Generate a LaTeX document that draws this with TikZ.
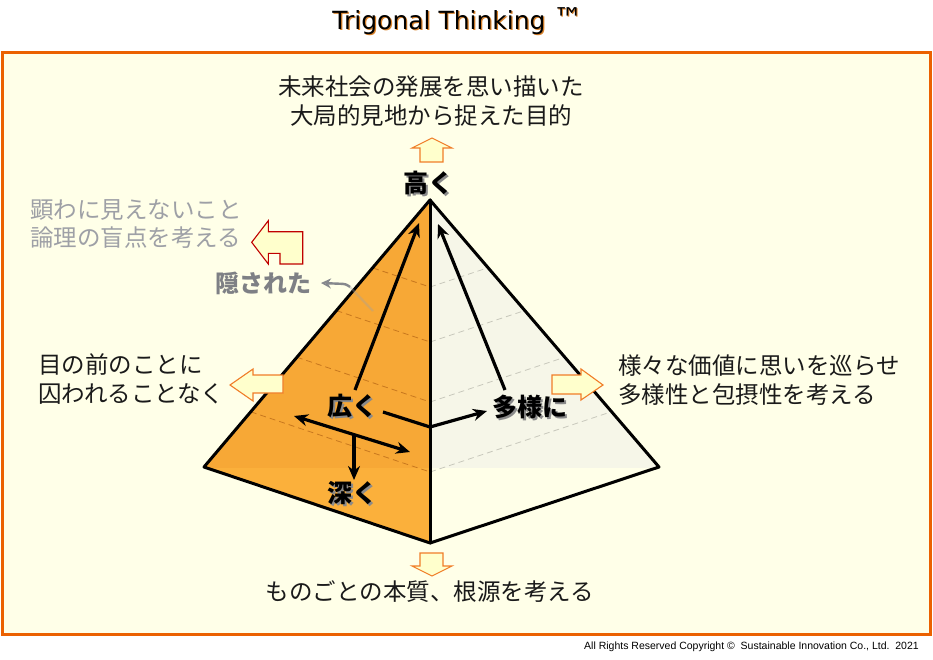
\documentclass[tikz,border=0pt]{standalone}
\usepackage{fontspec}
\setmainfont{DejaVu Sans}
\newfontfamily\jp{Noto Sans CJK JP}
\newfontfamily\arialf{Liberation Sans}
\usetikzlibrary{arrows.meta}
\definecolor{bgc}{HTML}{FFFFE8}
\definecolor{framec}{HTML}{EB6100}
\definecolor{lefttop}{HTML}{F7A836}
\definecolor{leftbot}{HTML}{FBB03B}
\definecolor{righttop}{HTML}{F6F6E8}
\definecolor{dashl}{HTML}{C8781E}
\definecolor{dashr}{HTML}{C8C8BC}
\definecolor{blockfill}{HTML}{FFFFCC}
\definecolor{blockline}{HTML}{F07D28}
\definecolor{hidline}{HTML}{C00000}
\definecolor{graytext}{HTML}{9EA0A6}
\definecolor{darktext}{HTML}{1A1A1A}
\definecolor{shadowc}{HTML}{8A8A8A}
\definecolor{titleshadow}{HTML}{D9822B}
\newcommand{\shadowtxt}[2]{\rlap{\hspace{2pt}\raisebox{-2pt}{\textcolor{#1}{#2}}}#2}
\newcommand{\softshadow}[2]{\rlap{\hspace{1.2pt}\raisebox{-1.2pt}{\textcolor{#1}{#2}}}#2}
\begin{document}
\begin{tikzpicture}[x=1pt,y=-1pt,
  edge/.style={line width=3pt,line join=round,line cap=round},
  dashleft/.style={dashl,line width=0.8pt,dash pattern=on 6pt off 4pt},
  dashright/.style={dashr,line width=0.8pt,dash pattern=on 6pt off 4pt},
  blackarrow/.style={line width=3.2pt,-{Stealth[length=14pt,width=12pt]}},
  blockarrow/.style={fill=blockfill,draw=blockline,line width=1.1pt,line join=miter},
  hidarrow/.style={fill=blockfill,draw=hidline,line width=1.1pt,line join=miter},
  jptext/.style={font=\jp\fontsize{23.5}{29}\selectfont,text=darktext,inner sep=0pt,align=left},
  graytxt/.style={font=\jp\fontsize{23.5}{28}\selectfont,text=graytext,inner sep=0pt,align=left},
  label/.style={font=\jp\bfseries\fontsize{25}{28}\selectfont,text=black,inner sep=0pt}
]
\useasboundingbox (0,0) rectangle (933,660);
\fill[white] (0,0) rectangle (933,660);
% frame
\draw[framec,line width=3.5pt,fill=bgc] (2.5,52.5) rectangle (930.5,634.5);
% title
\node[font=\fontsize{25}{28}\selectfont,inner sep=0pt] (title) at (458,22) {\softshadow{titleshadow}{Trigonal Thinking {\fontsize{30}{30}\selectfont ™}}};
% pyramid
\coordinate (apex) at (430,200);
\coordinate (lc) at (204,467);
\coordinate (rc) at (659,467);
\coordinate (bc) at (430,543);
\coordinate (ctr) at (430,427);
\fill[lefttop] (apex) -- (lc) -- (bc) -- cycle;
\begin{scope}
  \clip (apex) -- (lc) -- (bc) -- cycle;
  \fill[leftbot] (180,467.5) rectangle (430,560);
\end{scope}
\fill[righttop] (apex) -- (rc) -- (bc) -- cycle;
\begin{scope}
  \clip (apex) -- (rc) -- (bc) -- cycle;
  \fill[bgc] (430,467.5) rectangle (680,560);
\end{scope}
% dashed levels
\draw[dashleft] (373,268) -- (430,287);
\draw[dashleft] (336.4,310.6) -- (430,342);
\draw[dashleft] (296.8,357.2) -- (430,402);
\draw[dashleft] (250.7,411.8) -- (430,472);
\draw[dashright] (430,287) -- (488,267.7);
\draw[dashright] (430,342) -- (524.8,310.5);
\draw[dashright] (430,402) -- (564.8,357.2);
\draw[dashright] (430,472) -- (611.6,411.7);
% edges
\draw[edge] (apex) -- (lc) -- (bc) -- (rc) -- cycle;
\draw[edge] (apex) -- (bc);
% labels
\node[label] (high) at (428,184) {\shadowtxt{shadowc}{高く}};
\node[label] (wide) at (352,407) {\shadowtxt{shadowc}{広く}};
\node[label] (diverse) at (530,408) {\shadowtxt{shadowc}{多様に}};
\node[label] (deep) at (352,494) {\shadowtxt{shadowc}{深く}};
% black arrows
\coordinate (w1) at (355,390);
\coordinate (w1e) at (419,223);
\coordinate (d1) at (505,390);
\coordinate (d1e) at (438,224);
\coordinate (wl) at (383,412);
\coordinate (dl) at (487,411);
\coordinate (hl) at (294,416);
\coordinate (hr) at (410,452);
\coordinate (vt) at (354,434);
\coordinate (vb) at (354,480);
\draw[blackarrow] (w1) -- (w1e);
\draw[blackarrow] (d1) -- (d1e);
\draw[blackarrow,line join=round] (wl) -- (ctr) -- (dl);
\draw[line width=3.2pt,{Stealth[length=14pt,width=12pt]}-{Stealth[length=14pt,width=12pt]}] (hl) -- (hr);
\draw[blackarrow] (vt) -- (vb);
% block arrows
\draw[blockarrow] (432,138) -- (452,148) -- (443,148) -- (443,162) -- (420,162) -- (420,148) -- (412,148) -- cycle;
\draw[blockarrow] (420,553) -- (443,553) -- (443,566) -- (452,566) -- (432,576) -- (412,566) -- (420,566) -- cycle;
\draw[blockarrow] (230,385) -- (253,369) -- (253,375) -- (283,375) -- (283,393) -- (253,393) -- (253,401) -- cycle;
\draw[blockarrow] (552,375) -- (581,375) -- (581,369) -- (603,385) -- (581,400) -- (581,394) -- (552,394) -- cycle;
\draw[hidarrow] (251.7,242.3) -- (268.3,220.7) -- (268.3,231.7) -- (302.7,231.7) -- (302.7,264) -- (280,264) -- (280,253.3) -- (268.3,253.3) -- (268.3,264) -- cycle;
% texts
\node[jptext,align=center] (toptext) at (431,101.5) {未来社会の発展を思い描いた\\大局的見地から捉えた目的};
\node[graytxt,anchor=west] (graytop) at (30,224) {顕わに見えないこと\\論理の盲点を考える};
\node[jptext,anchor=west] (lefttext) at (38,379) {目の前のことに\\囚われることなく};
\node[jptext,anchor=west] (righttext) at (618,380.5) {様々な価値に思いを巡らせ\\多様性と包摂性を考える};
\node[jptext] (bottomtext) at (430,592) {ものごとの本質、根源を考える};
% hidden label
\node[font=\jp\bfseries\fontsize{24}{28}\selectfont,text=graytext!80!black,inner sep=0pt] (hidden) at (263,283) {隠された};
\coordinate (hs) at (373,311);
\coordinate (hm) at (350,287);
\coordinate (he) at (321,283);
\draw[graytext,line width=2.2pt,opacity=0.35] (hs) -- (hm);
\draw[graytext!85!black,line width=2.4pt,-{Stealth[length=10pt,width=10pt,open]},rounded corners=3pt] (hm) -- (346,284) -- (he);
% copyright
\node[font=\arialf\fontsize{10.5}{12}\selectfont,anchor=east,inner sep=0pt] (copy) at (919,647) {All Rights Reserved Copyright ©\ \ Sustainable Innovation Co., Ltd.\ \ 2021};
\end{tikzpicture}
\end{document}
